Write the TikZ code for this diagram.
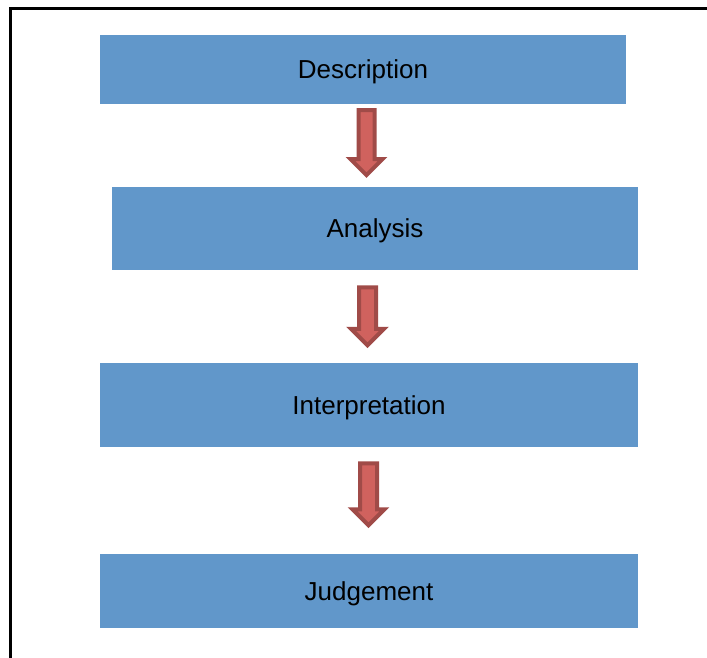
\documentclass[tikz,border=0pt]{standalone}
\usepackage{fontspec}
\setmainfont{Liberation Sans}
\usetikzlibrary{shapes.arrows}

\definecolor{boxblue}{HTML}{6197CA}
\definecolor{arrowred}{HTML}{D0625E}
\definecolor{arrowdark}{HTML}{A04B48}

\tikzset{
  stagebox/.style={fill=boxblue, inner sep=0pt, text depth=0pt, font=\fontsize{26}{30}\selectfont},
  blockarrow/.style={single arrow, fill=arrowred, draw=arrowdark, line width=4pt,
    rotate=-90, inner xsep=0pt, inner ysep=6pt, single arrow head extend=8pt,
    single arrow tip angle=90, single arrow head indent=0pt}
}

\begin{document}
\begin{tikzpicture}[x=1pt,y=-1pt]

  % Page size and clip
  \useasboundingbox (0,0) rectangle (707,658);
  \clip (0,0) rectangle (707,658);

  % Draw outer frame (runs off the right and bottom)
  \draw[line width=3pt] (10.5,9) rectangle (730,680);

  % Stages
  \node[stagebox, minimum width=526pt, minimum height=69pt] (desc) at (363,69.5) {Description};
  \node[stagebox, minimum width=526pt, minimum height=83pt] (ana) at (375,228.5) {Analysis};
  \node[stagebox, minimum width=538pt, minimum height=84pt] (interp) at (369,405) {Interpretation};
  \node[stagebox, minimum width=538pt, minimum height=74pt] (judge) at (369,591) {Judgement};

  % Block arrows between the stages
  \node[blockarrow, minimum height=65pt] (arrA) at (366.5,138.6) {};
  \node[blockarrow, minimum height=58pt, inner ysep=6.5pt] (arrB) at (367.5,312) {};
  \node[blockarrow, minimum height=62pt, inner ysep=6.5pt, single arrow head extend=7.5pt] (arrC) at (368.5,490) {};

\end{tikzpicture}
\end{document}
